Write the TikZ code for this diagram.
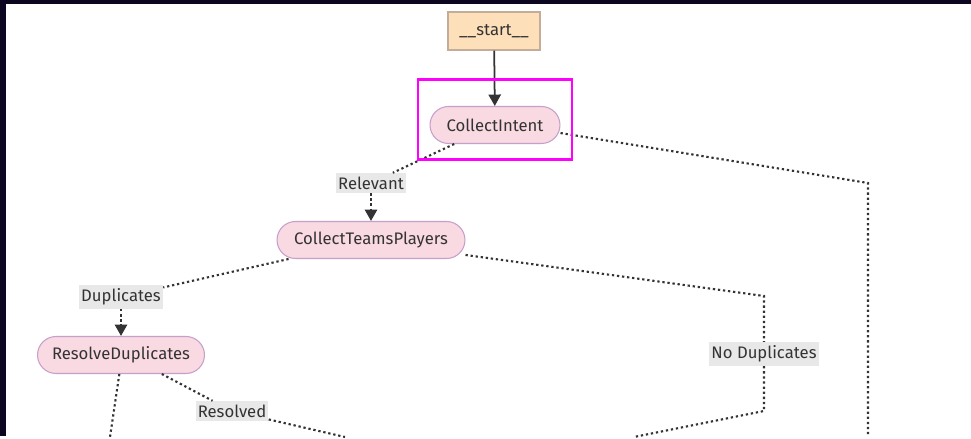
\documentclass[tikz,border=0pt]{standalone}
\usepackage{fontspec}
\setmainfont{Fira Sans}
\usetikzlibrary{arrows.meta}
\definecolor{frame}{HTML}{0D0620}
\definecolor{startfill}{HTML}{FDDFBA}
\definecolor{startline}{HTML}{C4AC98}
\definecolor{stepfill}{HTML}{F9D9E2}
\definecolor{stepline}{HTML}{C79FCB}
\definecolor{lblfill}{HTML}{E8E8E8}
\definecolor{ink}{HTML}{333333}
\definecolor{hilite}{HTML}{FF00FF}
\begin{document}
\begin{tikzpicture}[x=0.02cm,y=-0.02cm,
  every node/.style={font=\fontsize{9.5}{11}\selectfont,text=ink},
  startbox/.style={draw=startline,fill=startfill,line width=0.6pt,minimum width=1.84cm,minimum height=0.76cm},
  stepbox/.style={draw=stepline,fill=stepfill,line width=0.6pt,rounded corners=0.37cm,minimum height=0.74cm},
  lbl/.style={fill=lblfill,inner xsep=1.2pt,inner ysep=2pt},
  dots/.style={draw=ink,line width=1.2pt,dash pattern=on 1.3pt off 1.6pt},
  arr/.style={-{Triangle[length=6.5pt,width=7pt]}}]
\fill[frame] (0,0) rectangle (971,436);
\fill[white] (6,4) rectangle (971,436);

\node[startbox] (start) at (494,31) {\_\_start\_\_};
\node[stepbox,minimum width=2.6cm] (ci) at (495,125) {CollectIntent};
\node[stepbox,minimum width=3.76cm] (ctp) at (371,240) {CollectTeamsPlayers};
\node[stepbox,minimum width=3.34cm] (rd) at (121,355) {ResolveDuplicates};

\node[lbl] (rel) at (371,183) {Relevant};
\node[lbl] (dup) at (121,297) {Duplicates};
\node[lbl] (nodup) at (764,354) {No Duplicates};
\node[lbl] (res) at (232,411) {Resolved};

\coordinate (c1) at (868,183);
\coordinate (c1end) at (868,437);
\coordinate (c2) at (764,296);
\coordinate (c3) at (764,411);
\coordinate (c3end) at (634,437);
\coordinate (c4end) at (110,437);
\coordinate (c5end) at (345,437);

\path[draw=ink,line width=1pt,arr] (start) -- (ci);
\path[dots] (ci.205) -- (rel);
\path[dots,arr] (rel) -- (ctp);
\path[dots] (ci.-7) -- (c1) -- (c1end);
\path[dots] (ctp.193) -- (dup);
\path[dots,arr] (dup) -- (rd);
\path[dots] (ctp.-9) -- (c2) -- (nodup);
\path[dots] (nodup) -- (c3) -- (c3end);
\path[dots] (rd.265) -- (c4end);
\path[dots] (rd.-25) -- (res);
\path[dots] (res) -- (c5end);

\path[draw=hilite,line width=1.7pt] (418,80) rectangle (572,160);
\end{tikzpicture}
\end{document}
